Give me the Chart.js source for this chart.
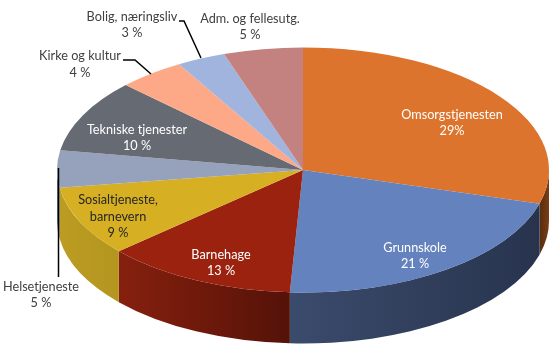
<!DOCTYPE html>
<html>
<head>
<meta charset="utf-8">
<script src="https://cdn.jsdelivr.net/npm/chart.js@4/dist/chart.umd.min.js"></script>
<style>
  body { margin: 0; background: #fff; }
  canvas { display: block; }
</style>
</head>
<body>
<canvas id="chart_budget" width="559" height="353"></canvas>
<script>
var categories = ["Omsorgstjenesten", "Grunnskole", "Barnehage", "Sosialtjeneste, barnevern", "Helsetjeneste", "Tekniske tjenester", "Kirke og kultur", "Bolig, næringsliv", "Adm. og fellesutg."];
var shares = [29.4, 21.4, 12.6, 9.2, 4.9, 9.6, 4.4, 3.2, 5.2];
var percentLabels = ["29%", "21 %", "13 %", "9 %", "5 %", "10 %", "4 %", "3 %", "5 %"];

var topColors = ["#DD742D", "#6482BD", "#9A220E", "#D6B022", "#96A1BB", "#666A72", "#FDA988", "#A1B4DD", "#C38180"];
// side wall of each slice, colour at its right end and at its left end
var sideColors = [
    ["#7A3D14", "#582C10"], ["#28344E", "#3B4B6C"], ["#551208", "#86200E"],
    ["#B4951F", "#BC9C22"], ["#6A7388", "#6A7388"], ["#000", "#000"],
    ["#000", "#000"], ["#000", "#000"], ["#000", "#000"]
];

// the pie is drawn round in chart space and squashed on to this ellipse
var pieCenterX = 303, pieCenterY = 170, pieRadiusX = 246, pieRadiusY = 122.5, pieDepth = 51;

// text lines: [text, center x, center y, colour]
var labelLines = [
    [categories[0], 452, 115, "#FFF"], [percentLabels[0], 452, 131, "#FFF"],
    [categories[1], 415, 248, "#FFF"], [percentLabels[1], 415, 264, "#FFF"],
    [categories[2], 221, 255, "#FFF"], [percentLabels[2], 221, 271, "#FFF"],
    ["Sosialtjeneste,", 118, 200, "#262626"], ["barnevern", 118, 217, "#262626"], [percentLabels[3], 118, 233, "#262626"],
    [categories[4], 41, 287, "#404040"], [percentLabels[4], 41, 303, "#404040"],
    [categories[5], 137, 130, "#FFF"], [percentLabels[5], 137, 146, "#FFF"],
    [categories[6], 80, 56, "#404040"], [percentLabels[6], 80, 73, "#404040"],
    [categories[7], 132, 17, "#404040"], [percentLabels[7], 132, 33, "#404040"],
    [categories[8], 250, 19, "#404040"], [percentLabels[8], 250, 35, "#404040"]
];

var leaderLines = [
    [[58.5, 168], [58.5, 277]],
    [[123, 60], [135, 60], [151, 74]],
    [[179, 21], [184, 21], [201, 58]]
];

//plugin that squashes the pie and adds the side wall, the leader lines and the texts
var pie3d = {
    id: "pie3d",
    beforeDatasetsDraw: function(chart) {
        var ctx = chart.ctx;
        var arcs = chart.getDatasetMeta(0).data;
        var cx = arcs[0].x, cy = arcs[0].y, r = arcs[0].outerRadius;
        var ky = pieRadiusY / r;

        ctx.save();
        ctx.translate(pieCenterX, pieCenterY);
        ctx.scale(pieRadiusX / r, ky);
        ctx.translate(-cx, -cy);

        var d = pieDepth / ky;
        arcs.forEach(function(arc, i) {
            var a0 = Math.max(arc.startAngle, 0);
            var a1 = Math.min(arc.endAngle, Math.PI);
            if (a1 <= a0) return;
            var grad = ctx.createLinearGradient(cx + r * Math.cos(a0), 0, cx + r * Math.cos(a1), 0);
            grad.addColorStop(0, sideColors[i][0]);
            grad.addColorStop(1, sideColors[i][1]);
            ctx.beginPath();
            ctx.arc(cx, cy, r, a0, a1);
            ctx.arc(cx, cy + d, r, a1, a0, true);
            ctx.closePath();
            ctx.fillStyle = grad;
            ctx.fill();
        });
    },
    afterDatasetsDraw: function(chart) {
        var ctx = chart.ctx;
        ctx.restore();

        ctx.strokeStyle = "#000";
        ctx.lineWidth = 1.5;
        leaderLines.forEach(function(line) {
            ctx.beginPath();
            line.forEach(function(p, i) {
                if (i === 0) ctx.moveTo(p[0], p[1]);
                else ctx.lineTo(p[0], p[1]);
            });
            ctx.stroke();
        });

        ctx.font = "12.7px Lato";
        ctx.textAlign = "center";
        ctx.textBaseline = "middle";
        labelLines.forEach(function(l) {
            ctx.fillStyle = l[3];
            ctx.fillText(l[0], l[1], l[2]);
        });
    }
};

new Chart(document.getElementById("chart_budget").getContext("2d"), {
    type: "pie",
    plugins: [pie3d],
    data: {
        labels: categories,
        datasets: [{
            data: shares,
            backgroundColor: topColors,
            borderWidth: 0,
            clip: false
        }]
    },
    options: {
        responsive: false,
        animation: false,
        plugins: {
            legend: { display: false },
            tooltip: { enabled: false }
        }
    }
});
</script>
</body>
</html>
